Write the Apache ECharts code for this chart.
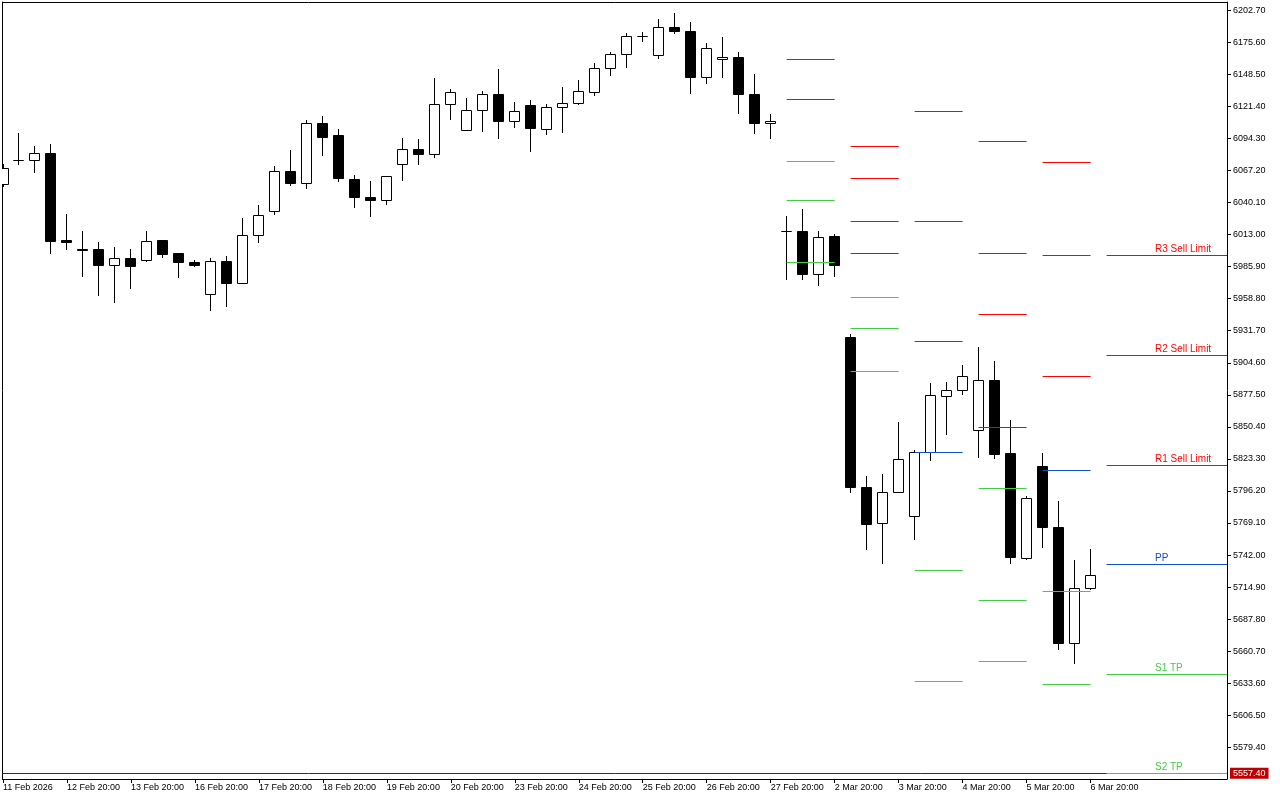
<!DOCTYPE html>
<html><head><meta charset="utf-8">
<script src="https://cdn.jsdelivr.net/npm/echarts@6/dist/echarts.min.js"></script>
<style>html,body{margin:0;padding:0;background:#fff}#c{width:1280px;height:800px}</style>
</head><body><div id="c"></div>
<script>
// ---- data ----
const xLabels = ['11 Feb 2026','12 Feb 20:00','13 Feb 20:00','16 Feb 20:00','17 Feb 20:00','18 Feb 20:00','19 Feb 20:00','20 Feb 20:00','23 Feb 20:00','24 Feb 20:00','25 Feb 20:00','26 Feb 20:00','27 Feb 20:00','2 Mar 20:00','3 Mar 20:00','4 Mar 20:00','5 Mar 20:00','6 Mar 20:00'];
const labelBars = [0,4,8,12,16,20,24,28,32,36,40,44,48,52,56,60,64,68];

const opens  = [6055.5,6075.8,6075.8,6082.0,6007.6,6000.8,6000.8,5986.7,5993.2,5991.3,6007.6,5996.6,5989.8,5962.5,5990.4,5971.8,6012.4,6032.7,6066.5,6056.4,6107.1,6097.0,6059.8,6044.5,6042.0,6072.5,6085.1,6080.9,6123.2,6101.2,6118.1,6131.7,6108.8,6122.4,6102.1,6120.7,6124.0,6133.3,6153.6,6165.5,6180.4,6164.6,6188.3,6184.9,6146.0,6161.3,6163.0,6131.7,6107.1,6015.8,6016.0,5979.1,6011.0,5925.6,5799.5,5768.8,5795.1,5774.8,5828.9,5876.3,5881.3,5847.5,5889.8,5827.5,5738.9,5817.3,5765.7,5667.0,5713.5];
const highs  = [6071.9,6098.1,6087.1,6088.8,6030.4,6015.2,6006.7,6001.7,6000.8,6016.0,6008.4,5996.6,5991.3,5992.4,5994.1,6027.0,6038.0,6070.2,6083.7,6109.1,6112.5,6101.5,6062.6,6057.5,6062.3,6093.9,6093.0,6144.6,6136.1,6128.5,6134.4,6152.2,6124.3,6126.8,6123.2,6137.8,6142.9,6158.1,6167.4,6182.7,6183.5,6195.3,6199.6,6192.0,6175.0,6180.1,6167.4,6148.0,6114.2,6028.7,6033.8,6016.0,6012.7,5928.9,5808.8,5810.5,5853.7,5830.8,5886.7,5888.3,5902.7,5917.1,5905.3,5855.4,5791.7,5827.5,5787.7,5737.0,5747.1];
const lows   = [6053.3,6072.1,6065.4,5996.9,6000.2,5977.4,5961.3,5955.4,5967.3,5990.1,5993.5,5976.6,5985.9,5948.6,5952.0,5971.5,6006.2,6029.8,6054.4,6051.8,6079.7,6057.7,6035.8,6028.1,6038.3,6058.6,6072.1,6078.0,6110.2,6101.2,6100.0,6094.1,6103.4,6083.1,6097.5,6099.2,6122.9,6130.5,6147.4,6154.2,6176.1,6161.8,6182.9,6132.2,6140.6,6145.7,6115.3,6098.3,6094.1,5974.9,5974.9,5969.8,5977.4,5795.3,5746.5,5734.7,5795.1,5755.0,5821.8,5843.8,5877.6,5824.3,5823.5,5734.7,5738.1,5748.2,5661.9,5650.1,5712.7];
const closes = [6069.1,6076.0,6081.8,6007.0,6006.2,5999.4,5986.7,5993.0,5985.9,6007.3,5996.0,5989.2,5986.7,5990.4,5971.5,6012.4,6029.3,6066.5,6056.4,6107.1,6095.3,6060.3,6044.5,6042.0,6062.3,6085.1,6080.9,6123.2,6133.4,6118.1,6131.7,6108.5,6117.3,6102.6,6120.7,6124.0,6134.2,6153.6,6165.5,6180.7,6180.5,6188.3,6184.6,6145.7,6170.6,6163.0,6131.3,6106.8,6108.8,6015.9,5979.1,6010.7,5986.7,5799.0,5767.7,5795.1,5823.0,5828.9,5877.1,5881.3,5893.2,5889.8,5826.9,5739.8,5790.0,5765.1,5667.0,5713.9,5725.1];

const yTickValues = [5579.4,5606.5,5633.6,5660.7,5687.8,5714.9,5742.0,5769.1,5796.2,5823.3,5850.4,5877.5,5904.6,5931.7,5958.8,5985.9,6013.0,6040.1,6067.2,6094.3,6121.4,6148.5,6175.6,6202.7];

// daily pivot level sets (first bar, last bar of each day)
const pivotStartBar = [49,53,57,61,65,69];
const pivotEndBar   = [52,56,60,64,68,null];
const r3 = [null,  6087.1,6117.3,6091.9,6074.1,5995.5];
const r2 = [null,  6060.6,6023.7,5997.2,5995.5,5910.9];
const r1 = [6161.3,6023.7,5922.8,5945.0,5893.2,5818.1];
const pp = [6127.4,5997.2,5828.9,5850.0,5813.7,5734.2];
const s1 = [6075.0,5960.2,5729.1,5798.4,5711.3,5641.1];
const s2 = [6042.0,5933.8,5635.2,5703.7,5632.7,5557.4];
const s3 = [5989.6,5897.4,null,  5652.1,null,  null];
const lastLevelNames = ['R3 Sell Limit','R2 Sell Limit','R1 Sell Limit','PP','S1 TP','S2 TP'];
const labelBar = 72;
const currentPrice = 5557.4;

// ---- layout / style ----
const X_MIN = -0.03125, X_MAX = X_MIN + 1225/16;
const Y_MIN = 5552.6, Y_MAX = 6209.7;
const RED = '#ff0000', BLUE = '#0f4fc8', GREEN = '#44cc44';
const levelColors = [RED, BLUE, GREEN];
const AXIS_FONT = 'Liberation Sans';

const candleData = opens.map((o, i) => [i, o, closes[i], lows[i], highs[i]]);

const levelData = [];
const groups = [[r3,0],[r2,0],[r1,0],[pp,1],[s1,2],[s2,2],[s3,2]];
pivotStartBar.forEach((sb, d) => {
  const eb = pivotEndBar[d] === null ? X_MAX : pivotEndBar[d];
  const isLast = pivotEndBar[d] === null;
  groups.forEach(([arr, kind], g) => {
    if (arr[d] === null) return;
    levelData.push([sb, eb, arr[d], kind, isLast ? g : -1]);
  });
});

const crisp = v => Math.round(v - 0.5) + 0.5;

function renderCandle(params, api) {
  const i = api.value(0), o = api.value(1), c = api.value(2), l = api.value(3), h = api.value(4);
  const pO = api.coord([i, o]), pC = api.coord([i, c]), pL = api.coord([i, l]), pH = api.coord([i, h]);
  const x = crisp(pO[0]);
  const yO = crisp(pO[1]), yC = crisp(pC[1]);
  const top = Math.min(yO, yC), bot = Math.max(yO, yC);
  const bull = c >= o;
  return {type: 'group', children: [
    {type: 'line', shape: {x1: x, y1: crisp(pH[1]) - 0.5, x2: x, y2: crisp(pL[1]) + 0.5}, style: {stroke: '#000', lineWidth: 1}},
    {type: 'rect', shape: {x: x - 5, y: top, width: 10, height: bot - top}, style: {fill: bull ? '#fff' : '#000', stroke: '#000', lineWidth: 1}}
  ]};
}

function renderLevel(params, api) {
  const v = api.value(2);
  const p0 = api.coord([api.value(0), v]);
  const p1 = api.coord([api.value(1), v]);
  const y = crisp(p0[1]);
  const color = levelColors[api.value(3)];
  const children = [{type: 'line', shape: {x1: p0[0], y1: y, x2: p1[0], y2: y}, style: {stroke: color, lineWidth: 1}}];
  const li = api.value(4);
  if (li >= 0) {
    const p = api.coord([labelBar, v]);
    children.push({type: 'text', style: {x: Math.round(p[0]), y: y - 6.5, text: lastLevelNames[li], fill: color,
      font: '10px "Liberation Sans"', textAlign: 'left', textVerticalAlign: 'middle', align: 'left', verticalAlign: 'middle'}});
  }
  return {type: 'group', children};
}

function renderPrice(params, api) {
  const p = api.coord([X_MIN, api.value(0)]);
  const y = crisp(p[1]);
  const cs = params.coordSys;
  return {type: 'line', shape: {x1: cs.x, y1: y, x2: cs.x + cs.width, y2: y}, style: {stroke: '#a00000', lineWidth: 1}};
}

const chart = echarts.init(document.getElementById('c'), null, {renderer: 'canvas'});
chart.setOption({
  animation: false,
  backgroundColor: '#fff',
  grid: {left: 2, right: 53, top: 2, bottom: 21, containLabel: false},
  xAxis: [{
    type: 'value', min: X_MIN, max: X_MAX, position: 'bottom',
    axisLine: {show: true, onZero: false, lineStyle: {color: '#000', width: 1}},
    axisTick: {show: true, length: 4, inside: false, customValues: labelBars, lineStyle: {color: '#000'}},
    axisLabel: {show: true, customValues: labelBars, align: 'left', margin: 4, color: '#000', fontSize: 9, fontFamily: AXIS_FONT,
      formatter: v => xLabels[labelBars.indexOf(Math.round(v))] || ''},
    splitLine: {show: false}
  }, {
    type: 'value', min: X_MIN, max: X_MAX, position: 'top',
    axisLine: {show: true, onZero: false, lineStyle: {color: '#000', width: 1}},
    axisTick: {show: false}, axisLabel: {show: false}, splitLine: {show: false}
  }],
  yAxis: [{
    type: 'value', min: Y_MIN, max: Y_MAX, position: 'right',
    axisLine: {show: true, onZero: false, lineStyle: {color: '#000', width: 1}},
    axisTick: {show: true, length: 4, inside: false, customValues: yTickValues, lineStyle: {color: '#000'}},
    axisLabel: {show: true, customValues: yTickValues, margin: 6, color: '#000', fontSize: 9, fontFamily: AXIS_FONT,
      formatter: v => v.toFixed(2)},
    splitLine: {show: false}
  }, {
    type: 'value', min: Y_MIN, max: Y_MAX, position: 'right',
    axisLine: {show: false}, axisTick: {show: false}, splitLine: {show: false},
    axisLabel: {show: true, customValues: [currentPrice], margin: 3, color: '#fff', backgroundColor: '#c00000',
      padding: [1, 3, 0, 3], lineHeight: 10, fontSize: 9, fontFamily: AXIS_FONT, formatter: v => v.toFixed(2)}
  }, {
    type: 'value', min: Y_MIN, max: Y_MAX, position: 'left',
    axisLine: {show: true, onZero: false, lineStyle: {color: '#000', width: 1}},
    axisTick: {show: false}, axisLabel: {show: false}, splitLine: {show: false}
  }],
  series: [{
    type: 'custom', name: 'price', z: 1, clip: true, renderItem: renderPrice,
    xAxisIndex: 0, yAxisIndex: 0, encode: {y: 0}, data: [[currentPrice]]
  }, {
    type: 'custom', name: 'candles', z: 2, clip: true, renderItem: renderCandle,
    xAxisIndex: 0, yAxisIndex: 0, encode: {x: 0, y: [1, 2, 3, 4]}, data: candleData
  }, {
    type: 'custom', name: 'levels', z: 3, clip: false, renderItem: renderLevel,
    xAxisIndex: 0, yAxisIndex: 0, encode: {x: [0, 1], y: 2}, data: levelData
  }]
});
</script>
</body></html>
